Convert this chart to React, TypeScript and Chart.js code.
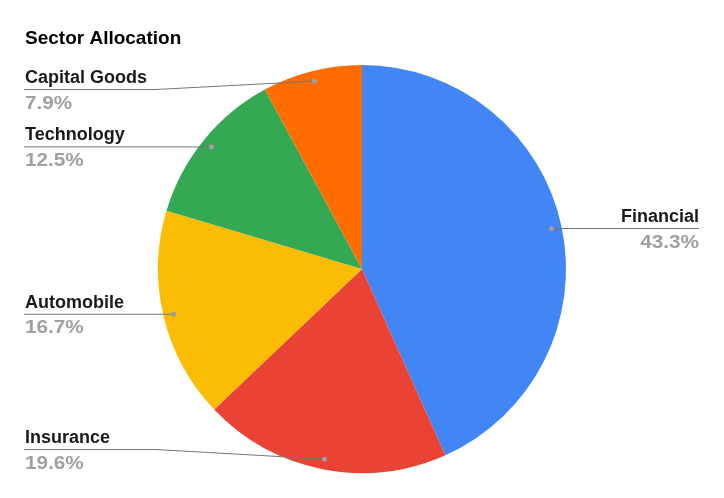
import { useEffect, useRef } from "react";
import { Chart, registerables } from "chart.js";

Chart.register(...registerables);

const sectors = ["Financial", "Insurance", "Automobile", "Technology", "Capital Goods"];
const shares = [43.3, 19.6, 16.7, 12.5, 7.9];
const sliceColors = ["#4285F4", "#EA4335", "#FBBC04", "#34A853", "#FF6D01"];
const chartTitle = "Sector Allocation";

const FONT = "'Liberation Sans', Arial, sans-serif";

const labelPlugin = {
  id: "sliceLabels",
  afterDraw(chart: any) {
    const { ctx } = chart;
    const meta = chart.getDatasetMeta(0);
    ctx.save();

    // title
    ctx.fillStyle = "#000";
    ctx.font = `bold 19px ${FONT}`;
    ctx.textAlign = "left";
    ctx.textBaseline = "alphabetic";
    ctx.fillText(chartTitle, 25, 44);

    meta.data.forEach((arc: any, i: number) => {
      const { x, y, startAngle, endAngle, outerRadius } = arc.getProps(
        ["x", "y", "startAngle", "endAngle", "outerRadius"],
        true
      );
      const mid = (startAngle + endAngle) / 2;
      const px = x + Math.cos(mid) * outerRadius * 0.95;
      const py = y + Math.sin(mid) * outerRadius * 0.95;
      const right = Math.cos(mid) >= 0;
      const lineY = Math.min(Math.max(py, 89.5), 449.5);

      ctx.strokeStyle = "#757575";
      ctx.lineWidth = 1;
      ctx.beginPath();
      if (right) {
        ctx.moveTo(px, py);
        ctx.lineTo(699, lineY);
      } else {
        const bendX = Math.min(px, 156);
        ctx.moveTo(px, py);
        ctx.lineTo(bendX, lineY);
        ctx.lineTo(24, lineY);
      }
      ctx.stroke();

      ctx.fillStyle = "#9e9e9e";
      ctx.beginPath();
      ctx.arc(px, py, 2.5, 0, Math.PI * 2);
      ctx.fill();

      ctx.textAlign = right ? "right" : "left";
      const tx = right ? 699 : 25;
      ctx.fillStyle = "#1a1a1a";
      ctx.font = `bold 18px ${FONT}`;
      ctx.fillText(sectors[i], tx, lineY - 6.5);

      // percentage text is drawn a bit wider, as in the reference
      ctx.save();
      ctx.translate(tx, lineY + 19);
      ctx.scale(1.15, 1);
      ctx.fillStyle = "#a0a0a0";
      ctx.fillText(`${shares[i].toFixed(1)}%`, 0, 0);
      ctx.restore();
    });

    ctx.restore();
  },
};

export default function App() {
  const chartRef = useRef<HTMLCanvasElement>(null);
  const chartInstance = useRef<Chart | null>(null);

  useEffect(() => {
    if (!chartRef.current) return;
    if (chartInstance.current) chartInstance.current.destroy();
    const ctx = chartRef.current.getContext("2d");
    if (!ctx) return;

    chartInstance.current = new Chart(ctx, {
      type: "pie",
      data: {
        labels: sectors,
        datasets: [{
          data: shares,
          backgroundColor: sliceColors,
          borderWidth: 0,
        }],
      },
      options: {
        animation: false,
        responsive: true,
        maintainAspectRatio: false,
        layout: { padding: { top: 65, bottom: 25, left: 0, right: 0 } },
        plugins: {
          legend: { display: false },
          title: { display: false },
          tooltip: { enabled: false },
        },
      },
      plugins: [labelPlugin],
    });

    return () => {
      if (chartInstance.current) {
        chartInstance.current.destroy();
        chartInstance.current = null;
      }
    };
  }, []);

  return (
    <div style={{ position: "absolute", left: 0, top: 0, width: 724, height: 498, background: "#fff" }}>
      <canvas ref={chartRef} />
    </div>
  );
}
